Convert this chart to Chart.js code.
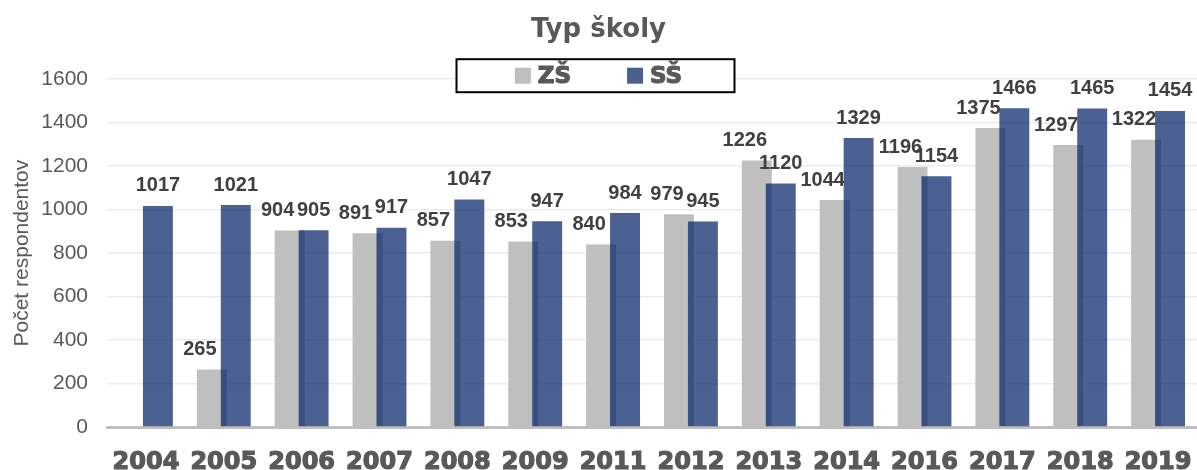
<!DOCTYPE html>
<html>
<head>
<meta charset="utf-8">
<script src="https://cdn.jsdelivr.net/npm/chart.js@4/dist/chart.umd.min.js"></script>
<style>
  html, body { margin: 0; padding: 0; background: #ffffff; }
  #wrap { width: 1197px; height: 470px; position: relative; }
</style>
</head>
<body>
<div id="wrap"><canvas id="c" width="1197" height="470"></canvas></div>
<script>
const categories = ['2004','2005','2006','2007','2008','2009','2011','2012','2013','2014','2016','2017','2018','2019'];
const zsValues = [null, 265, 904, 891, 857, 853, 840, 979, 1226, 1044, 1196, 1375, 1297, 1322];
const ssValues = [1017, 1021, 905, 917, 1047, 947, 984, 945, 1120, 1329, 1154, 1466, 1465, 1454];
const seriesNames = ['ZŠ', 'SŠ'];
const chartTitle = 'Typ školy';
const yAxisTitle = 'Počet respondentov';
const yTicks = [0, 200, 400, 600, 800, 1000, 1200, 1400, 1600];

const GREY = '#BFBFBF';
const BLUE = 'rgba(4,36,102,0.72)';
const BLUE_LEGEND = '#4A6190';
const HEAVY = '"DejaVu Sans", sans-serif';
const ARIAL = '"Liberation Sans", Arial, sans-serif';

// draw datasets in forward order so the second series overlaps the first
const forwardDraw = {
  id: 'forwardDraw',
  beforeDatasetsDraw(chart) {
    const ctx = chart.ctx;
    const a = chart.chartArea;
    ctx.save();
    ctx.beginPath();
    ctx.rect(a.left, a.top - 50, a.right - a.left, a.bottom - a.top + 50);
    ctx.clip();
    chart.getSortedVisibleDatasetMetas().forEach(m => m.controller.draw());
    ctx.restore();
    return false;
  }
};

const valueLabels = {
  id: 'valueLabels',
  afterDraw(chart) {
    const ctx = chart.ctx;
    ctx.save();
    ctx.font = 'bold 20px ' + ARIAL;
    ctx.fillStyle = '#404040';
    ctx.textAlign = 'center';
    ctx.textBaseline = 'middle';
    chart.data.datasets.forEach((ds, di) => {
      const meta = chart.getDatasetMeta(di);
      meta.data.forEach((el, i) => {
        const v = ds.data[i];
        if (v === null || v === undefined) return;
        const dx = di === 0 ? -12 : 0;
        ctx.fillText(String(v), el.x + dx, el.y - 20);
      });
    });
    ctx.restore();
  }
};

const boxedLegend = {
  id: 'boxedLegend',
  afterDraw(chart) {
    const ctx = chart.ctx;
    const a = chart.chartArea;
    const cx = chart.width / 2 - 3;
    const top = a.top - 20;
    const h = 33, w = 278;
    ctx.save();
    ctx.fillStyle = '#ffffff';
    ctx.fillRect(cx - w / 2, top, w, h);
    ctx.strokeStyle = '#000000';
    ctx.lineWidth = 2;
    ctx.strokeRect(cx - w / 2, top, w, h);
    ctx.font = 'bold 23px ' + HEAVY;
    const colors = [GREY, BLUE_LEGEND];
    const sq = 16, gap1 = 7, gap2 = 56;
    const widths = seriesNames.map(n => ctx.measureText(n).width);
    let total = 0;
    widths.forEach((tw, i) => { total += sq + gap1 + tw + (i ? gap2 : 0); });
    let x = cx + 3 - total / 2;
    const my = top + h / 2;
    ctx.textBaseline = 'middle';
    ctx.textAlign = 'left';
    seriesNames.forEach((n, i) => {
      ctx.fillStyle = colors[i];
      ctx.fillRect(x, my - sq / 2, sq, sq);
      x += sq + gap1;
      ctx.fillStyle = '#595959';
      ctx.strokeStyle = '#595959';
      ctx.lineWidth = 1.2;
      ctx.fillText(n, x, my + 1);
      ctx.strokeText(n, x, my + 1);
      x += widths[i] + gap2;
    });
    ctx.restore();
  }
};

new Chart(document.getElementById('c'), {
  type: 'bar',
  data: {
    labels: categories,
    datasets: [
      { label: seriesNames[0], data: zsValues, backgroundColor: GREY, borderWidth: 0 },
      { label: seriesNames[1], data: ssValues, backgroundColor: BLUE, borderWidth: 0 }
    ]
  },
  options: {
    responsive: false,
    animation: false,
    devicePixelRatio: 1,
    layout: { padding: { left: 0, right: 0, top: 0, bottom: 0 } },
    datasets: { bar: { categoryPercentage: 0.615, barPercentage: 1.25 } },
    plugins: {
      legend: { display: false },
      tooltip: { enabled: false },
      title: {
        display: true,
        text: chartTitle,
        color: '#595959',
        font: { family: HEAVY, size: 26, weight: 'bold', lineHeight: 1.2 },
        padding: { top: 15, bottom: 33 }
      }
    },
    scales: {
      x: {
        grid: { display: false, drawTicks: false },
        border: { display: true, color: '#BFBFBF', width: 3 },
        ticks: {
          color: '#595959',
          textStrokeColor: '#595959',
          textStrokeWidth: 1.2,
          font: { family: HEAVY, size: 24, weight: 'bold', lineHeight: '12px' },
          padding: 30,
          maxRotation: 0,
          autoSkip: false
        },
        afterFit(scale) { scale.height = 43; scale.paddingLeft = 0; scale.paddingRight = 0; }
      },
      y: {
        min: 0,
        max: 1600,
        afterBuildTicks(scale) { scale.ticks = yTicks.map(v => ({ value: v })); },
        grid: { color: '#EBEBEB', lineWidth: 1.5, drawTicks: false },
        border: { display: false },
        ticks: {
          color: '#595959',
          font: { family: ARIAL, size: 21 },
          padding: 19,
          callback: (v) => String(v)
        },
        title: {
          display: true,
          text: yAxisTitle,
          color: '#595959',
          font: { family: ARIAL, size: 21 },
          padding: { top: 10, bottom: 6 }
        },
        afterFit(scale) { scale.width = 107; }
      }
    }
  },
  plugins: [forwardDraw, valueLabels, boxedLegend]
});
</script>
</body>
</html>
